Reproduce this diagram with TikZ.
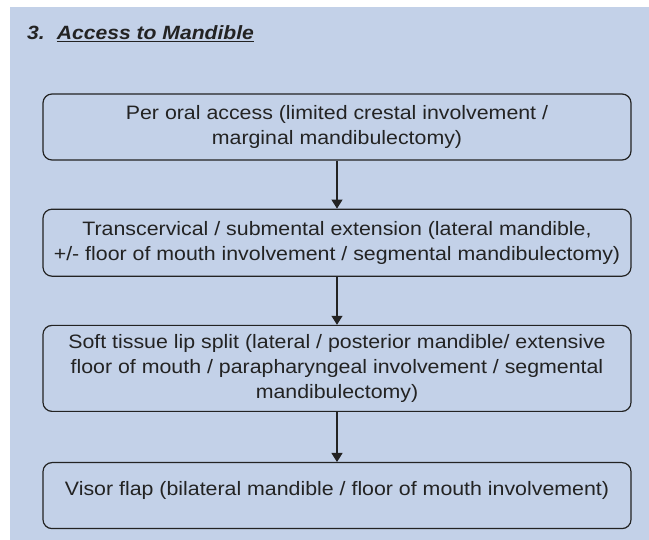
\documentclass[tikz,border=0pt]{standalone}
\usepackage{fontspec}
\setmainfont[FakeStretch=1.1]{Liberation Sans}
\usetikzlibrary{positioning,arrows.meta}
\definecolor{panelblue}{RGB}{195,209,232}
\definecolor{inkgray}{RGB}{35,35,35}
\tikzset{
  stepbox/.style={draw=inkgray,line width=1.2pt,rounded corners=9pt,minimum width=588pt,
    align=center,text=inkgray,font=\fontsize{19.4}{25}\selectfont,inner sep=0pt},
  flow/.style={draw=inkgray,line width=1.1pt,-{Triangle[width=11pt,length=9pt]}}
}
\begin{document}
\begin{tikzpicture}[x=1pt,y=-1pt,node distance=48pt]
\useasboundingbox (0,0) rectangle (649,540);
\fill[panelblue] (10,7) rectangle (649,540);
\node[anchor=base west,inner sep=0pt,text=inkgray,font=\fontsize{19.2}{22}\selectfont\bfseries\itshape] (title) at (27,40)
  {3.\hspace{12pt}\underline{Access to Mandible}};
\node[stepbox,minimum height=66pt] (oral) at (337,127) {Per oral access (limited crestal involvement /\\marginal mandibulectomy)};
\node[stepbox,minimum height=67pt,below=48pt of oral] (cervical) {Transcervical / submental extension (lateral mandible,\\+/- floor of mouth involvement / segmental mandibulectomy)};
\node[stepbox,minimum height=86pt,below=48pt of cervical] (lipsplit) {Soft tissue lip split (lateral / posterior mandible/ extensive\\floor of mouth / parapharyngeal involvement / segmental\\mandibulectomy)};
\node[stepbox,minimum height=66pt,below=50pt of lipsplit] (visor) {\raisebox{14pt}{Visor flap (bilateral mandible / floor of mouth involvement)}};
\draw[flow] (oral) -- (cervical);
\draw[flow] (cervical) -- (lipsplit);
\draw[flow] (lipsplit) -- (visor);
\end{tikzpicture}
\end{document}
